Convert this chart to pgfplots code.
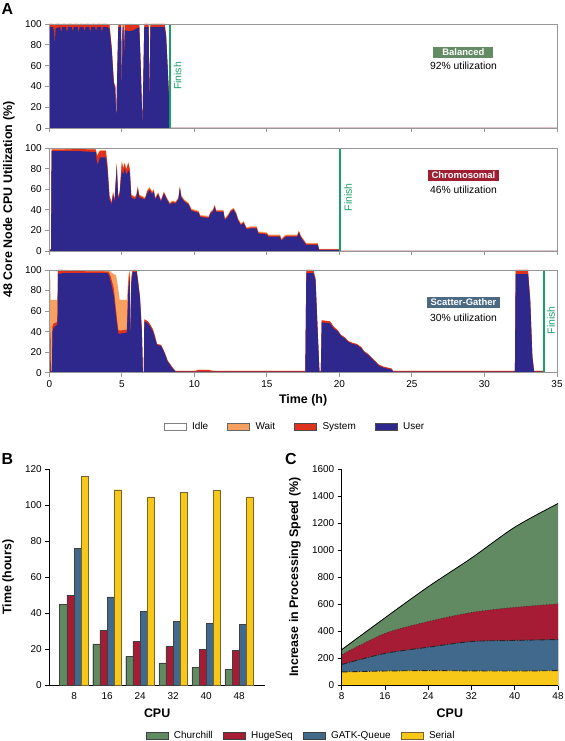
\documentclass[border=0pt]{standalone}
\usepackage{fontspec}
\setmainfont{Liberation Sans}
\usepackage{pgfplots}
\usepackage{pgfplotstable}
\pgfplotsset{compat=1.18}

\definecolor{cuser}{RGB}{46,40,140}
\definecolor{csys}{RGB}{222,50,30}
\definecolor{cwait}{RGB}{248,160,95}
\definecolor{cframe}{RGB}{150,150,150}
\definecolor{cfinish}{RGB}{25,160,105}
\definecolor{cchurch}{RGB}{98,138,98}
\definecolor{chuge}{RGB}{165,28,52}
\definecolor{cgatk}{RGB}{65,105,140}
\definecolor{cserial}{RGB}{248,200,25}
\definecolor{cscat}{RGB}{75,105,130}
\definecolor{cbal}{RGB}{100,140,100}
\definecolor{cchrom}{RGB}{160,30,50}
\definecolor{cserline}{RGB}{120,100,50}

\pgfplotstableread{
t user sys wait
0 0 0 0
0.03 97 3 0
0.25 97 3 0
0.32 93 6 1
0.38 80 18 1
0.44 96 4 0
0.75 97 3 0
0.82 92 7 1
0.9 97 3 0
1.15 97 3 0
1.22 92 7 1
1.3 97 3 0
1.55 97 3 0
1.62 93 6 1
1.7 97 3 0
1.95 97 3 0
2.02 92 7 1
2.1 97 3 0
2.35 97 3 0
2.42 93 6 1
2.5 97 3 0
2.75 97 3 0
2.82 92 7 1
2.9 97 3 0
3.15 97 3 0
3.22 93 6 1
3.3 97 3 0
3.55 97 3 0
3.62 92 7 1
3.7 97 3 0
4.0 97 3 0
4.15 95 4 0
4.3 75 3 0
4.45 42 2 0
4.55 38 2 0
4.62 5 1 0
4.68 50 2 0
4.76 97 3 0
4.95 97 2 0
5.0 30 1 0
5.05 96 3 0
5.12 97 2 0
5.15 65 2 0
5.2 94 5 1
5.5 93 6 1
5.8 94 5 1
6.2 97 2 0
6.3 60 1 0
6.42 2 1 0
6.5 60 2 0
6.55 97 3 0
6.85 97 3 0
6.9 20 1 0
6.97 97 3 0
7.95 97 3 0
8.05 88 2 0
8.15 60 1 0
8.25 30 1 0
8.32 0 0 0
35 0 0 0
}\balanced

\pgfplotstableread{
t user sys wait
0 1 0.5 0
0.12 1 0.5 0
0.16 97 1.5 0.5
1.0 97 1.5 0.5
2.0 97 2 0.5
3.2 96 2.5 0.5
3.3 84 8 1
3.4 86 9 1
3.5 91 6 1
3.9 91 6 1
4.0 80 5 1
4.15 50 3 1
4.3 45 2 1
4.4 55 2 1
4.5 47 2 1
4.65 82 2 1
4.75 50 2 1
4.85 55 2 1
5.0 78 8 2
5.1 74 6 1
5.2 80 5 1
5.3 74 5 1
5.45 78 7 2
5.55 76 3 1
5.65 52 2 1
5.9 50 2 1
6.0 52 2 1
6.1 60 2 1
6.2 52 2 1
6.6 50 1 1
6.75 56 2 1
6.9 59 2 1
7.1 55 2 1
7.2 58 1 1
7.3 50 1 1
7.5 55 1 1
7.7 48 1 1
7.9 56 1 1
8.1 50 1 1
8.3 45 1 1
8.5 47 1 1
8.7 46 1 1
8.9 50 1 1
9.0 61 1 1
9.1 52 1 1
9.3 48 1 1
9.6 45 1 1
9.8 39 1 1
10.3 37 1 1
10.4 33 1 1
11.0 32 1 1
11.1 36 1 1
11.3 39 1 1
11.4 43 1 1
11.5 38 1 1
12.0 38 1 1
12.1 30 1 1
12.3 33 1 1
12.5 38 1 1
12.7 40 1 1
12.9 35 1 1
13.0 30 1 1
13.2 25 1 1
13.4 27 1 1
13.6 21 1 1
13.9 22 1 1
14.3 22 1 1
14.4 17 1 1
15.0 16 1 1
15.1 14 1 1
15.9 14 1 1
16.0 10 1 1
16.3 14 1 1
17.1 14 1 1
17.2 18 1 1
17.35 13 1 1
17.5 10 1 1
17.7 6 1 1
18.5 6 1 1
18.6 1 0.5 0.5
20.0 1 0.5 0.5
20.05 0 0 0
35 0 0 0
}\chromo

\pgfplotstableread{
t user sys wait
0 0 0 0
0.01 40 5 50
0.06 40 5 50
0.09 1 1 69
0.18 1 1 69
0.22 40 5 26
0.3 44 4 23
0.5 46 3 22
0.56 47 3 21
0.6 97 3 0
0.75 96 4 0
0.9 97 3 0
1.2 97 2 1
4.0 97 1.5 1
4.1 95 3 2
4.25 88 5 5
4.45 75 7 14
4.6 55 6 34
4.75 38 4 40
4.85 38 3 30
5.35 39 3 29
5.45 80 8 7
5.55 92 5 3
5.6 22 2 0
5.65 85 5 5
5.75 98 2 0
6.02 98 2 0
6.1 90 2 0
6.25 72 2 0
6.38 40 1 0
6.45 0.5 0.5 0
6.52 0.5 0.5 0
6.55 50 2 0
6.8 48 2 0
6.95 45 2 0
7.15 40 2 0
7.3 33 2 0
7.42 27 1 0
7.7 26 1 0
7.85 22 1 0
8.0 17 1 0
8.15 11 1 0
8.35 7 1 0
8.5 4 1 0
8.7 1 0.5 0.5
10.0 1 0.5 0.5
10.3 1 1.5 0.5
11.0 1 1.5 0.5
11.3 1 0.5 0.5
17.65 1 0.5 0.5
17.72 97 3 0
18.2 97 3 0
18.35 90 2 0
18.5 40 1 0
18.62 1 0.5 0.5
18.72 1 0.5 0.5
18.78 49 2 0
19.35 48 2 0
19.6 43 2 0
19.9 40 1 0
20.1 36 1 0
20.4 33 1 0
20.6 30 1 0
20.9 28 1 0
21.2 27 1 0
21.5 24 1 0
21.7 20 1 0
22.0 17 1 0
22.2 14 1 0
22.5 10 1 0
22.7 7 1 0
23.0 5 1 0
23.6 3 1 0
23.7 1 0.5 0.5
32.1 1 0.5 0.5
32.15 96 4 0
33.0 96 4 0
33.15 70 2 0
33.3 15 1 0
33.42 1 0.5 0.5
34.1 1 0.5 0.5
34.12 0 0 0
35 0 0 0
}\scatter

\tikzset{
  lab/.style={font=\fontsize{12.5}{14}\selectfont\bfseries},
  tag/.style={text=white, font=\fontsize{9.5}{11}\selectfont\bfseries, inner xsep=4bp, inner ysep=2bp},
  util/.style={font=\fontsize{10.4}{12}\selectfont},
  fin/.style={text=cfinish, rotate=90, font=\fontsize{10.5}{12}\selectfont},
}

\pgfplotsset{
  cpu/.style={
    anchor=south west,
    scale only axis, width=507.7bp,
    xmin=0, xmax=35, ymin=0, ymax=100,
    xtick={0,5,...,35}, ytick={0,20,...,100},
    axis line style={cframe, line width=0.9bp},
    tick style={cframe, line width=0.9bp},
    tick align=outside, major tick length=4bp,
    xtick pos=bottom, ytick pos=left,
    tick label style={font=\fontsize{10}{12}\selectfont, text=black},
    /pgf/number format/assume math mode=true,
    axis on top,
  },
  box legend/.style={legend image code/.code={\draw[##1] (0bp,-3.5bp) rectangle (22bp,3.5bp);}},
}

\newcommand{\cpuplots}[1]{%
  \addplot[fill=cwait, draw=none, forget plot] table[x=t, y expr=\thisrow{user}+\thisrow{sys}+\thisrow{wait}] {#1} \closedcycle;
  \addplot[fill=csys, draw=none, forget plot] table[x=t, y expr=\thisrow{user}+\thisrow{sys}] {#1} \closedcycle;
  \addplot[fill=cuser, draw=none, forget plot] table[x=t, y=user] {#1} \closedcycle;
}

\begin{document}
\begin{tikzpicture}
\useasboundingbox (0,0) rectangle (565bp,741bp);

% ---------- Panel A: Balanced ----------
\begin{axis}[cpu, at={(49.3bp,613bp)}, height=104bp, xticklabels={}]
\cpuplots{\balanced}
\addplot[cfinish, line width=2bp, forget plot] coordinates {(8.35,0) (8.35,100)};
\node[tag, fill=cbal, minimum width=60bp] at (axis cs:28.55,72.8) {Balanced};
\node[util] at (axis cs:28.55,59.9) {92\% utilization};
\node[fin] at (axis cs:8.85,50) {Finish};
\end{axis}

% ---------- Panel A: Chromosomal ----------
\begin{axis}[cpu, at={(49.3bp,490bp)}, height=103bp, xticklabels={},
  ylabel={48 Core Node CPU Utilization (\%)},
  ylabel style={lab, at={(axis description cs:-0.0794,0.5)}, anchor=center}]
\cpuplots{\chromo}
\addplot[cfinish, line width=2bp, forget plot] coordinates {(20.05,0) (20.05,100)};
\node[tag, fill=cchrom] at (axis cs:28.55,73.3) {Chromosomal};
\node[util] at (axis cs:28.55,59.7) {46\% utilization};
\node[fin] at (axis cs:20.6,52) {Finish};
\end{axis}

% ---------- Panel A: Scatter-Gather ----------
\begin{axis}[cpu, at={(49.3bp,368.3bp)}, height=102.7bp,
  xlabel={Time (h)},
  xlabel style={lab, at={(axis description cs:0.5,-0.27)}, anchor=center},
  box legend,
  legend style={at={(0.484,-0.529)}, anchor=center, draw=none, fill=none,
    legend columns=4, font=\fontsize{10}{12}\selectfont,
    /tikz/every odd column/.append style={column sep=4bp},
    /tikz/every even column/.append style={column sep=17bp}}]
\cpuplots{\scatter}
\addplot[cfinish, line width=2bp, forget plot] coordinates {(34.1,0) (34.1,100)};
\node[tag, fill=cscat] at (axis cs:28.55,68.8) {Scatter-Gather};
\node[util] at (axis cs:28.55,53.5) {30\% utilization};
\node[fin] at (axis cs:34.6,51) {Finish};
\addlegendimage{fill=white, draw=gray}
\addlegendimage{fill=cwait, draw=black!60}
\addlegendimage{fill=csys, draw=black!70}
\addlegendimage{fill=cuser, draw=black!70}
\legend{Idle, Wait, System, User}
\end{axis}

% ---------- Panel B ----------
\begin{axis}[
  at={(49.3bp,55.7bp)}, anchor=south west,
  scale only axis, width=215.7bp, height=216.3bp,
  ybar=0pt, bar width=7.2bp,
  xmin=-0.75, xmax=5.78, ymin=0, ymax=120,
  xtick={0,1,2,3,4,5}, xticklabels={8,16,24,32,40,48},
  ytick={0,20,...,120},
  axis x line*=bottom, axis y line*=left,
  axis line style={-, black, line width=0.8bp},
  major x tick style={draw=none},
  tick style={black, line width=0.8bp},
  tick align=outside, major tick length=4bp,
  tick label style={font=\fontsize{10}{12}\selectfont},
  /pgf/number format/assume math mode=true,
  xlabel={CPU}, ylabel={Time (hours)},
  xlabel style={lab, at={(axis description cs:0.5,-0.128)}, anchor=center},
  ylabel style={lab, at={(axis description cs:-0.191,0.5)}, anchor=center},
  box legend,
  legend style={at={(1.167,-0.234)}, anchor=center, draw=none, fill=none,
    legend columns=4, font=\fontsize{10}{12}\selectfont,
    /tikz/every odd column/.append style={column sep=4bp},
    /tikz/every even column/.append style={column sep=8bp}},
]
\addplot[fill=cchurch, draw=black!75] coordinates {(0,45) (1,23) (2,16) (3,12.5) (4,10) (5,9)};
\addplot[fill=chuge, draw=black!75] coordinates {(0,50) (1,30.5) (2,24.5) (3,21.5) (4,20) (5,19.5)};
\addplot[fill=cgatk, draw=black!75] coordinates {(0,76) (1,49) (2,41) (3,35.5) (4,34.5) (5,34)};
\addplot[fill=cserial, draw=cserline] coordinates {(0,116) (1,108.5) (2,104.5) (3,107) (4,108) (5,104.5)};
\legend{Churchill, HugeSeq, GATK-Queue, Serial}
\end{axis}

% ---------- Panel C ----------
\begin{axis}[
  at={(341.7bp,55.5bp)}, anchor=south west,
  scale only axis, width=216.3bp, height=216.5bp,
  xmin=8, xmax=48, ymin=0, ymax=1600,
  xtick={8,16,...,48}, ytick={0,200,...,1600},
  axis x line*=bottom, axis y line*=left,
  axis line style={-, black, line width=0.8bp},
  tick style={black, line width=0.8bp},
  tick align=outside, major tick length=4bp,
  tick label style={font=\fontsize{10}{12}\selectfont},
  /pgf/number format/assume math mode=true,
  /pgf/number format/1000 sep={},
  axis on top,
  xlabel={CPU}, ylabel={Increase in Processing Speed (\%)},
  xlabel style={lab, at={(axis description cs:0.5,-0.128)}, anchor=center},
  ylabel style={lab, at={(axis description cs:-0.216,0.5)}, anchor=center},
]
\addplot[fill=cchurch, draw=none, smooth] coordinates {(8,265) (16,500) (24,730) (32,942) (40,1170) (48,1345)} \closedcycle;
\addplot[black, line width=0.8bp, smooth] coordinates {(8,265) (16,500) (24,730) (32,942) (40,1170) (48,1345)};
\addplot[fill=chuge, draw=none, smooth] coordinates {(8,228) (16,385) (24,473) (32,540) (40,578) (48,603)} \closedcycle;
\addplot[black!80, line width=0.8bp, dotted, smooth] coordinates {(8,228) (16,385) (24,473) (32,540) (40,578) (48,603)};
\addplot[fill=cgatk, draw=none, smooth] coordinates {(8,155) (16,237) (24,283) (32,325) (40,333) (48,340)} \closedcycle;
\addplot[black!85, line width=0.9bp, dash pattern=on 6bp off 1.5bp on 1bp off 1.5bp, smooth] coordinates {(8,155) (16,237) (24,283) (32,325) (40,333) (48,340)};
\addplot[fill=cserial, draw=none, smooth] coordinates {(8,100) (16,107) (24,110) (32,108) (40,107) (48,110)} \closedcycle;
\addplot[black!85, line width=0.9bp, dash pattern=on 6bp off 1.5bp on 1bp off 1.5bp, smooth] coordinates {(8,100) (16,107) (24,110) (32,108) (40,107) (48,110)};
\end{axis}

% ---------- Panel letters ----------
\node[font=\fontsize{16}{18}\selectfont\bfseries] at (7.5bp,732bp) {A};
\node[font=\fontsize{16}{18}\selectfont\bfseries] at (7.5bp,282bp) {B};
\node[font=\fontsize{16}{18}\selectfont\bfseries] at (291bp,282bp) {C};
\end{tikzpicture}
\end{document}
